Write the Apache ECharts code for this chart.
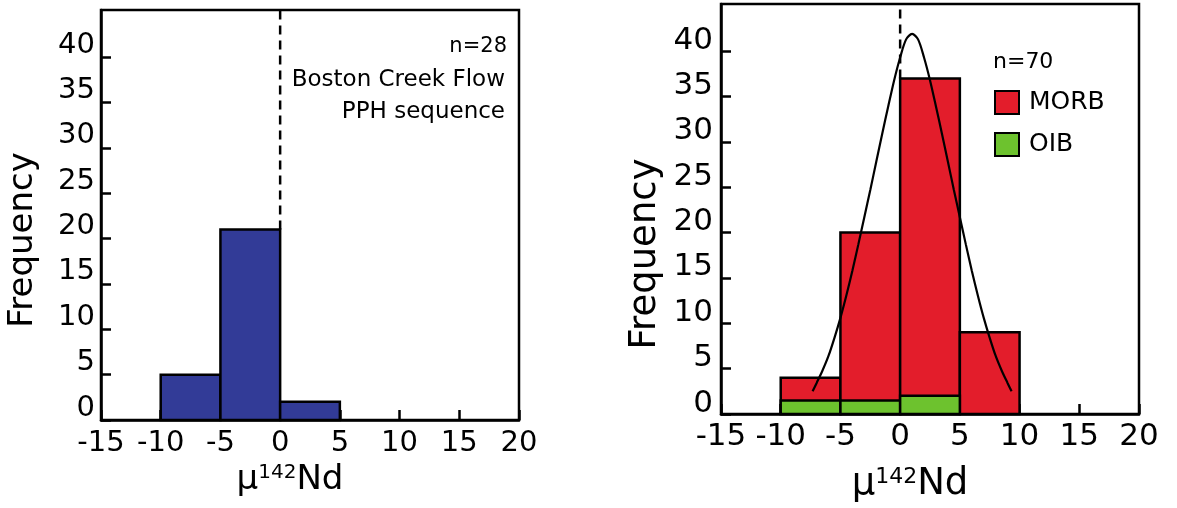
<!DOCTYPE html>
<html>
<head>
<meta charset="utf-8">
<script src="https://cdn.jsdelivr.net/npm/echarts@6/dist/echarts.min.js"></script>
<style>
  html, body { margin: 0; padding: 0; background: #fff; }
  #chart { width: 1177px; height: 508px; }
</style>
</head>
<body>
<div id="chart"></div>
<script>
// axis ticks
const xTicks = [-15, -10, -5, 0, 5, 10, 15, 20];
const yTicks = [0, 5, 10, 15, 20, 25, 30, 35, 40];

// left panel: Boston Creek Flow, PPH sequence (n=28)
const bostonBins = [[-10, -5], [-5, 0], [0, 5]];
const bostonCounts = [5, 21, 2];

// right panel: MORB / OIB (n=70)
const morbBins = [[-10, -5], [-5, 0], [0, 5], [5, 10]];
const morbCounts = [4, 20, 37, 9];
const oibBins = [[-10, -5], [-5, 0], [0, 5]];
const oibCounts = [1.5, 1.5, 2];

// fitted curve
const curveX = [-7.33, -7.0, -6.5, -6.0, -5.5, -5.0, -4.5, -4.0, -3.5, -3.0, -2.5, -2.0, -1.5, -1.0, -0.5, 0, 0.5, 1.0,
                1.5, 2.0, 2.5, 3.0, 3.5, 4.0, 4.5, 5.0, 5.5, 6.0, 6.5, 7.0, 7.5, 8.0, 8.5, 9.0, 9.33];
const curveY = [2.5, 3.4, 4.8, 6.4, 8.4, 10.6, 13.1, 15.8, 18.7, 21.7, 24.7, 27.8, 30.9, 33.9, 36.8, 39.3, 41.3, 41.9,
                41.3, 39.3, 36.8, 33.9, 30.9, 27.8, 24.7, 21.7, 18.7, 15.8, 13.1, 10.6, 8.4, 6.4, 4.8, 3.4, 2.5];

const FONT = 'DejaVu Sans';
const yTop = 45.2;

function histRect(fill) {
  return function (params, api) {
    const a = api.coord([api.value(0), api.value(2)]);
    const b = api.coord([api.value(1), 0]);
    return {
      type: 'rect',
      shape: { x: a[0], y: a[1], width: b[0] - a[0], height: b[1] - a[1] },
      style: { fill: fill, stroke: '#000', lineWidth: 2.5 }
    };
  };
}

function binData(bins, counts) {
  return bins.map((b, i) => [b[0], b[1], counts[i]]);
}

function xAxisFor(idx, tickSize, nameSize, supSize, labelMargin, nameGap) {
  return {
    gridIndex: idx,
    type: 'value',
    min: -15,
    max: 20,
    interval: 5,
    axisLine: { show: true, onZero: false, lineStyle: { color: '#000', width: 2.5 } },
    axisTick: { show: true, inside: true, length: 10, customValues: xTicks, lineStyle: { color: '#000', width: 2.5 } },
    axisLabel: { customValues: xTicks, fontSize: tickSize, fontFamily: FONT, color: '#000', margin: labelMargin },
    splitLine: { show: false },
    name: '{a|μ}{s|142}{a|Nd}',
    nameLocation: 'middle',
    nameGap: nameGap,
    nameTextStyle: {
      padding: [0, 40, 0, 0],
      rich: {
        a: { fontSize: nameSize, fontFamily: FONT, color: '#000' },
        s: { fontSize: supSize, fontFamily: FONT, color: '#000', verticalAlign: 'top' }
      }
    }
  };
}

function yAxisFor(idx, tickSize, nameSize, labelMargin, lh, nameGap, shift) {
  return {
    gridIndex: idx,
    type: 'value',
    min: 0,
    max: yTop,
    interval: 5,
    axisLine: { show: true, onZero: false, lineStyle: { color: '#000', width: 2.5 } },
    axisTick: { show: true, inside: true, length: 10, customValues: yTicks, lineStyle: { color: '#000', width: 2.5 } },
    axisLabel: {
      customValues: yTicks, fontSize: tickSize, fontFamily: FONT, color: '#000',
      margin: labelMargin, verticalAlign: 'bottom', lineHeight: lh
    },
    splitLine: { show: false },
    name: 'Frequency',
    nameLocation: 'middle',
    nameGap: nameGap,
    nameTextStyle: { fontSize: nameSize, fontFamily: FONT, color: '#000', padding: [0, shift, 0, 0] }
  };
}

const chart = echarts.init(document.getElementById('chart'));

const option = {
  animation: false,
  backgroundColor: '#fff',
  grid: [
    { left: 101, top: 10, width: 418, height: 410, show: true, borderColor: '#000', borderWidth: 2.5 },
    { left: 721, top: 4, width: 418, height: 410, show: true, borderColor: '#000', borderWidth: 2.5 }
  ],
  xAxis: [
    xAxisFor(0, 29, 34, 20, 9, 35),
    xAxisFor(1, 31, 37, 22, 7, 52)
  ],
  yAxis: [
    yAxisFor(0, 29, 34, 6, 24, 61, 50),
    yAxisFor(1, 31, 37, 8, 21, 57, 90)
  ],
  legend: {
    data: ['MORB', 'OIB'],
    orient: 'vertical',
    left: 994,
    top: 90,
    padding: 0,
    itemWidth: 24,
    itemHeight: 23,
    itemGap: 17,
    icon: 'rect',
    selectedMode: false,
    itemStyle: { borderColor: '#000', borderWidth: 2 },
    textStyle: { fontSize: 25, fontFamily: FONT, color: '#000', padding: [0, 0, 0, 5] }
  },
  graphic: [
    { type: 'text', x: 507, y: 47, style: { text: 'n=28', fontSize: 21, fontFamily: FONT, fill: '#000', align: 'right', verticalAlign: 'middle' } },
    { type: 'text', x: 505, y: 80, style: { text: 'Boston Creek Flow', fontSize: 23, fontFamily: FONT, fill: '#000', align: 'right', verticalAlign: 'middle' } },
    { type: 'text', x: 505, y: 112, style: { text: 'PPH sequence', fontSize: 23, fontFamily: FONT, fill: '#000', align: 'right', verticalAlign: 'middle' } },
    { type: 'text', x: 993, y: 62, style: { text: 'n=70', fontSize: 22, fontFamily: FONT, fill: '#000', align: 'left', verticalAlign: 'middle' } }
  ],
  series: [
    {
      name: 'Boston Creek',
      type: 'custom',
      xAxisIndex: 0, yAxisIndex: 0,
      renderItem: histRect('#323b97'),
      encode: { x: [0, 1], y: 2 },
      data: binData(bostonBins, bostonCounts),
      z: 3
    },
    {
      type: 'line',
      xAxisIndex: 0, yAxisIndex: 0,
      data: [[0, bostonCounts[1]], [0, yTop]],
      symbol: 'none',
      lineStyle: { color: '#000', width: 2.5, type: [9, 6] },
      z: 4
    },
    {
      name: 'MORB',
      type: 'custom',
      xAxisIndex: 1, yAxisIndex: 1,
      renderItem: histRect('#e31d2b'),
      encode: { x: [0, 1], y: 2 },
      itemStyle: { color: '#e31d2b' },
      data: binData(morbBins, morbCounts),
      z: 3
    },
    {
      name: 'OIB',
      type: 'custom',
      xAxisIndex: 1, yAxisIndex: 1,
      renderItem: histRect('#6dc22e'),
      encode: { x: [0, 1], y: 2 },
      itemStyle: { color: '#6dc22e' },
      data: binData(oibBins, oibCounts),
      z: 4
    },
    {
      type: 'line',
      xAxisIndex: 1, yAxisIndex: 1,
      data: [[0, morbCounts[2]], [0, yTop]],
      symbol: 'none',
      lineStyle: { color: '#000', width: 2.5, type: [9, 6] },
      z: 5
    },
    {
      type: 'line',
      xAxisIndex: 1, yAxisIndex: 1,
      data: curveX.map((x, i) => [x, curveY[i]]),
      smooth: 0.3,
      symbol: 'none',
      lineStyle: { color: '#000', width: 2.2 },
      z: 6
    }
  ]
};

chart.setOption(option);
</script>
</body>
</html>
